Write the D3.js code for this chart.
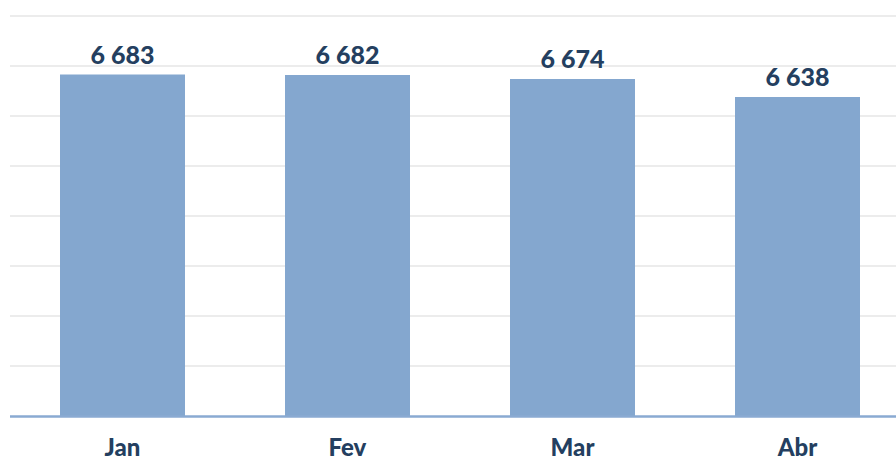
<!DOCTYPE html>
<html>
<head>
<meta charset="utf-8">
<script src="https://cdn.jsdelivr.net/npm/d3@7"></script>
<style>
  body { margin: 0; background: #fff; }
  svg { display: block; }
</style>
</head>
<body>
<div id="chart"></div>
<script>
// Data
const months = ['Jan', 'Fev', 'Mar', 'Abr'];
const values = [6683, 6682, 6674, 6638];
const gridTicks = [6100, 6200, 6300, 6400, 6500, 6600, 6700, 6800];

const width = 896, height = 461;

const svg = d3.select('#chart').append('svg')
    .attr('width', width)
    .attr('height', height);

// Scales
const x = d3.scaleBand()
    .domain(months)
    .range([10, 910])
    .paddingInner(100 / 225)
    .paddingOuter(50 / 225);

const y = d3.scaleLinear()
    .domain([6000, 6800])
    .range([416, 16]);

// Gridlines
svg.append('g')
    .selectAll('line')
    .data(gridTicks)
    .join('line')
    .attr('x1', 10)
    .attr('x2', width)
    .attr('y1', d => y(d))
    .attr('y2', d => y(d))
    .attr('stroke', '#ececec')
    .attr('stroke-width', 2);

// Bars
svg.append('g')
    .selectAll('rect')
    .data(values)
    .join('rect')
    .attr('x', (d, i) => x(months[i]))
    .attr('y', d => y(d))
    .attr('width', x.bandwidth())
    .attr('height', d => y(6000) - y(d))
    .attr('fill', '#84a7cf');

// Baseline axis
const axis = d3.axisBottom(x).tickSize(0).tickSizeOuter(0).tickPadding(23);
const axisG = svg.append('g')
    .attr('transform', `translate(0,${y(6000)})`)
    .call(axis);
axisG.select('.domain')
    .attr('d', `M10,0.5H${width}`)
    .attr('stroke', '#8aaad2')
    .attr('stroke-width', 2.5);
axisG.selectAll('text')
    .attr('font-family', 'Lato, sans-serif')
    .attr('font-weight', 900)
    .attr('font-size', 24)
    .attr('fill', '#243f60');

// Value labels
const fmt = d3.formatLocale({ decimal: ',', thousands: '\u00a0', grouping: [3], currency: ['', ''] }).format(',d');
svg.append('g')
    .selectAll('text')
    .data(values)
    .join('text')
    .attr('x', (d, i) => x(months[i]) + x.bandwidth() / 2)
    .attr('y', d => y(d) - 11)
    .attr('text-anchor', 'middle')
    .attr('font-family', 'Lato, sans-serif')
    .attr('font-weight', 900)
    .attr('font-size', 25)
    .attr('fill', '#243f60')
    .text(d => fmt(d));
</script>
</body>
</html>
